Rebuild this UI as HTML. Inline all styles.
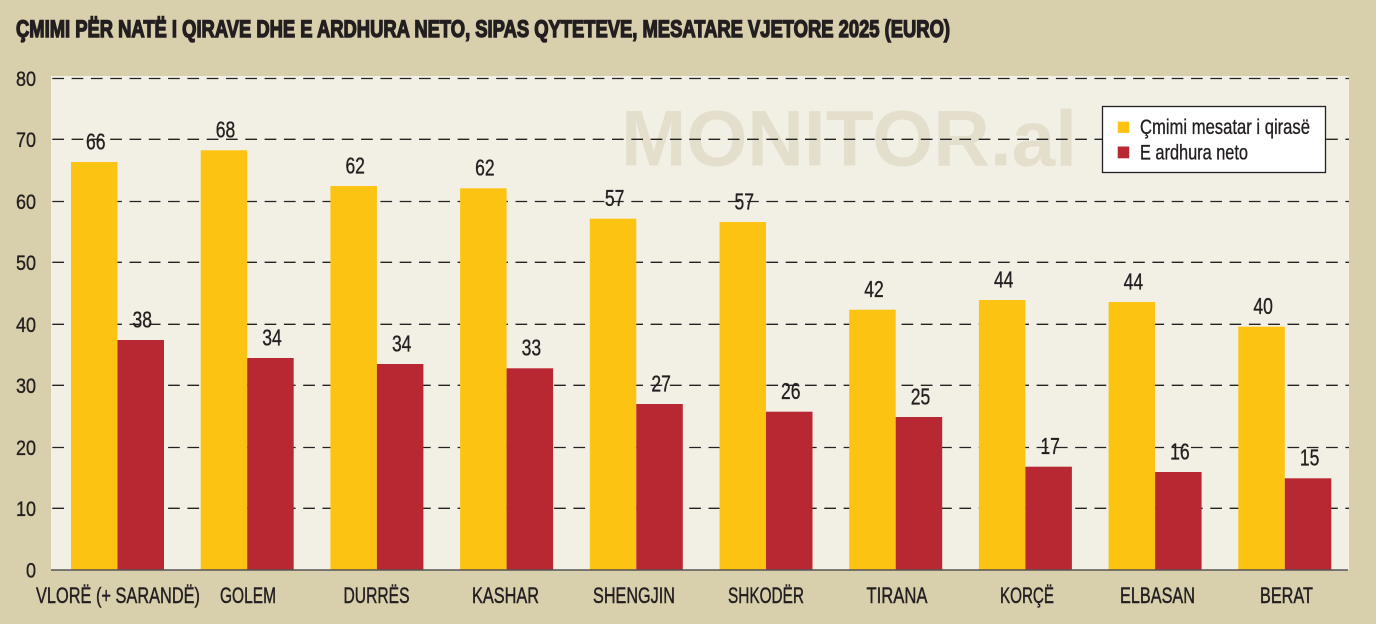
<!DOCTYPE html>
<html>
<head>
<meta charset="utf-8">
<style>
  html,body{margin:0;padding:0;background:#d8d0ac;}
  svg{display:block;}
  text{font-family:"Liberation Sans Narrow","Liberation Sans",sans-serif;fill:#231f20;}
</style>
</head>
<body>
<svg width="1376" height="624" viewBox="0 0 1376 624" xmlns="http://www.w3.org/2000/svg">
  <rect x="0" y="0" width="1376" height="624" fill="#d8d0ac"/>
  <!-- title -->
  <text x="16" y="37" font-size="24" font-weight="bold" stroke="#231f20" stroke-width="1.4" textLength="934" lengthAdjust="spacingAndGlyphs">ÇMIMI PËR NATË I QIRAVE DHE E ARDHURA NETO, SIPAS QYTETEVE, MESATARE VJETORE 2025 (EURO)</text>

  <!-- plot area -->
  <rect x="51" y="76" width="1298" height="494" fill="#f2f0e4"/>

  <!-- watermark -->
  <text x="621" y="165.7" font-size="79" font-weight="bold" style="fill:#e4dfcc;font-family:'Liberation Sans',sans-serif" textLength="456" lengthAdjust="spacingAndGlyphs">MONITOR.al</text>

  <!-- gridlines -->
  <g stroke="#222" stroke-width="1.3" stroke-dasharray="11.7 7.6" fill="none">
    <line x1="52.3" y1="78.5" x2="1349" y2="78.5"/>
    <line x1="52.3" y1="139.3" x2="1349" y2="139.3"/>
    <line x1="52.3" y1="201.5" x2="1349" y2="201.5"/>
    <line x1="52.3" y1="262.3" x2="1349" y2="262.3"/>
    <line x1="52.3" y1="324.3" x2="1349" y2="324.3"/>
    <line x1="52.3" y1="385.3" x2="1349" y2="385.3"/>
    <line x1="52.3" y1="447.5" x2="1349" y2="447.5"/>
    <line x1="52.3" y1="508.3" x2="1349" y2="508.3"/>
  </g>

  <!-- y labels -->
  <g font-size="21" text-anchor="end" stroke="#231f20" stroke-width="0.35">
    <text x="36" y="86" textLength="20" lengthAdjust="spacingAndGlyphs">80</text>
    <text x="36" y="146.8" textLength="20" lengthAdjust="spacingAndGlyphs">70</text>
    <text x="36" y="209" textLength="20" lengthAdjust="spacingAndGlyphs">60</text>
    <text x="36" y="269.8" textLength="20" lengthAdjust="spacingAndGlyphs">50</text>
    <text x="36" y="331.8" textLength="20" lengthAdjust="spacingAndGlyphs">40</text>
    <text x="36" y="392.8" textLength="20" lengthAdjust="spacingAndGlyphs">30</text>
    <text x="36" y="455" textLength="20" lengthAdjust="spacingAndGlyphs">20</text>
    <text x="36" y="515.8" textLength="20" lengthAdjust="spacingAndGlyphs">10</text>
    <text x="36" y="577.3" textLength="10" lengthAdjust="spacingAndGlyphs">0</text>
  </g>

  <!-- bars -->
  <g fill="#fdc313">
    <rect x="71" y="162" width="46.5" height="408"/>
    <rect x="200.7" y="150.3" width="46.5" height="419.7"/>
    <rect x="330.4" y="186" width="46.5" height="384"/>
    <rect x="460.1" y="188.3" width="46.5" height="381.7"/>
    <rect x="589.8" y="218.7" width="46.5" height="351.3"/>
    <rect x="719.5" y="222" width="46.5" height="348"/>
    <rect x="849.2" y="309.7" width="46.5" height="260.3"/>
    <rect x="978.9" y="300" width="46.5" height="270"/>
    <rect x="1108.6" y="302" width="46.5" height="268"/>
    <rect x="1238.3" y="326.7" width="46.5" height="243.3"/>
  </g>
  <g fill="#b82832">
    <rect x="117.5" y="340" width="46.5" height="230"/>
    <rect x="247.2" y="358" width="46.5" height="212"/>
    <rect x="376.9" y="364" width="46.5" height="206"/>
    <rect x="506.6" y="368.3" width="46.5" height="201.7"/>
    <rect x="636.3" y="404" width="46.5" height="166"/>
    <rect x="766" y="411.7" width="46.5" height="158.3"/>
    <rect x="895.7" y="417" width="46.5" height="153"/>
    <rect x="1025.4" y="466.7" width="46.5" height="103.3"/>
    <rect x="1155.1" y="472" width="46.5" height="98"/>
    <rect x="1284.8" y="478.3" width="46.5" height="91.7"/>
  </g>

  <!-- baseline -->
  <line x1="51" y1="570" x2="1348" y2="570" stroke="#555" stroke-width="1.6"/>

  <!-- value labels -->
  <g font-size="23" text-anchor="middle" stroke="#231f20" stroke-width="0.35">
    <text x="95.8" y="149.3" textLength="19.5" lengthAdjust="spacingAndGlyphs">66</text>
    <text x="225.5" y="137.6" textLength="19.5" lengthAdjust="spacingAndGlyphs">68</text>
    <text x="355.2" y="173.3" textLength="19.5" lengthAdjust="spacingAndGlyphs">62</text>
    <text x="484.9" y="175.6" textLength="19.5" lengthAdjust="spacingAndGlyphs">62</text>
    <text x="614.6" y="206" textLength="19.5" lengthAdjust="spacingAndGlyphs">57</text>
    <text x="744.3" y="209.3" textLength="19.5" lengthAdjust="spacingAndGlyphs">57</text>
    <text x="874" y="297" textLength="19.5" lengthAdjust="spacingAndGlyphs">42</text>
    <text x="1003.7" y="287.3" textLength="19.5" lengthAdjust="spacingAndGlyphs">44</text>
    <text x="1133.4" y="289.3" textLength="19.5" lengthAdjust="spacingAndGlyphs">44</text>
    <text x="1263.1" y="314" textLength="19.5" lengthAdjust="spacingAndGlyphs">40</text>

    <text x="142.3" y="327.3" textLength="19.5" lengthAdjust="spacingAndGlyphs">38</text>
    <text x="272" y="345.3" textLength="19.5" lengthAdjust="spacingAndGlyphs">34</text>
    <text x="401.7" y="351.3" textLength="19.5" lengthAdjust="spacingAndGlyphs">34</text>
    <text x="531.4" y="355.6" textLength="19.5" lengthAdjust="spacingAndGlyphs">33</text>
    <text x="661.1" y="391.3" textLength="19.5" lengthAdjust="spacingAndGlyphs">27</text>
    <text x="790.8" y="399" textLength="19.5" lengthAdjust="spacingAndGlyphs">26</text>
    <text x="920.5" y="404.3" textLength="19.5" lengthAdjust="spacingAndGlyphs">25</text>
    <text x="1050.2" y="454" textLength="19.5" lengthAdjust="spacingAndGlyphs">17</text>
    <text x="1179.9" y="459.3" textLength="19.5" lengthAdjust="spacingAndGlyphs">16</text>
    <text x="1309.6" y="465.6" textLength="19.5" lengthAdjust="spacingAndGlyphs">15</text>
  </g>

  <!-- category labels -->
  <g font-size="22.5" text-anchor="middle" stroke="#231f20" stroke-width="0.45">
    <text x="118" y="603" textLength="164" lengthAdjust="spacingAndGlyphs">VLORË (+ SARANDË)</text>
    <text x="248" y="603" textLength="56" lengthAdjust="spacingAndGlyphs">GOLEM</text>
    <text x="376.5" y="603" textLength="66" lengthAdjust="spacingAndGlyphs">DURRËS</text>
    <text x="505.5" y="603" textLength="67" lengthAdjust="spacingAndGlyphs">KASHAR</text>
    <text x="634" y="603" textLength="82" lengthAdjust="spacingAndGlyphs">SHENGJIN</text>
    <text x="766" y="603" textLength="76" lengthAdjust="spacingAndGlyphs">SHKODËR</text>
    <text x="897" y="603" textLength="61" lengthAdjust="spacingAndGlyphs">TIRANA</text>
    <text x="1027" y="603" textLength="54" lengthAdjust="spacingAndGlyphs">KORÇË</text>
    <text x="1157.5" y="603" textLength="75" lengthAdjust="spacingAndGlyphs">ELBASAN</text>
    <text x="1286.5" y="603" textLength="53" lengthAdjust="spacingAndGlyphs">BERAT</text>
  </g>

  <!-- legend -->
  <rect x="1102.5" y="106.5" width="223" height="66" fill="#ffffff" stroke="#222" stroke-width="1.3"/>
  <rect x="1117.7" y="121.7" width="11.5" height="11.2" fill="#fdc313"/>
  <rect x="1117.7" y="146.5" width="11.5" height="11.8" fill="#b82832"/>
  <g font-size="21" stroke="#231f20" stroke-width="0.35">
    <text x="1140" y="134" textLength="170" lengthAdjust="spacingAndGlyphs">Çmimi mesatar i qirasë</text>
    <text x="1140" y="159.3" textLength="108" lengthAdjust="spacingAndGlyphs">E ardhura neto</text>
  </g>
</svg>
</body>
</html>
